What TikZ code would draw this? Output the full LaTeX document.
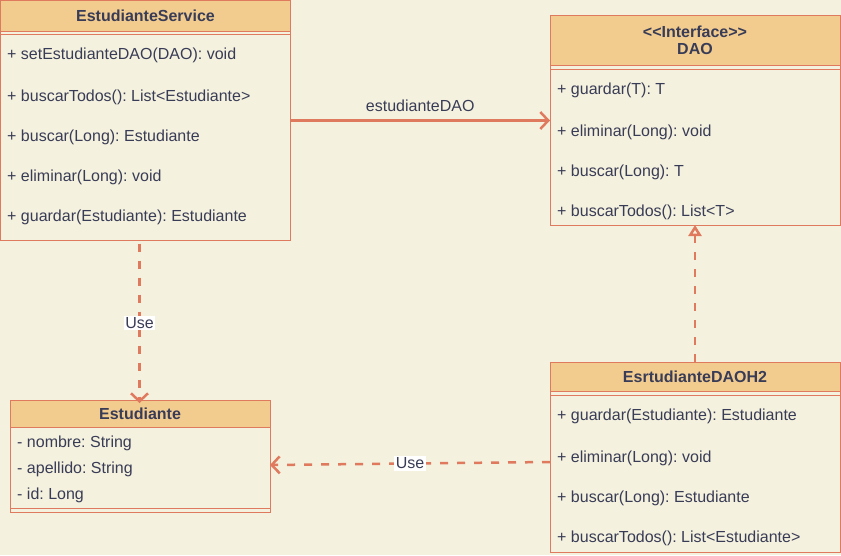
\documentclass[tikz,border=0pt]{standalone}
\usepackage{fontspec}
\setmainfont{Liberation Sans}
\usetikzlibrary{arrows.meta}
\definecolor{bg}{HTML}{F4F1DE}
\definecolor{stroke}{HTML}{E07A5F}
\definecolor{headfill}{HTML}{F2CC8F}
\definecolor{txt}{HTML}{393C56}
\frenchspacing
\begin{document}
\begin{tikzpicture}[x=1pt,y=-1pt,
  box/.style={draw=stroke,fill=bg,line width=1pt,inner sep=0pt,outer sep=0pt,anchor=north west},
  head/.style={draw=stroke,fill=headfill,line width=1pt,inner sep=0pt,outer sep=0pt,anchor=north west,
     font=\fontsize{16pt}{17pt}\selectfont\bfseries,text=txt,align=center},
  sep/.style={draw=stroke,line width=1pt},
  item/.style={anchor=west,inner sep=0pt,font=\fontsize{16pt}{18pt}\selectfont,text=txt},
  conn/.style={draw=stroke,line width=2.5pt},
  dashconn/.style={conn,dash pattern=on 8pt off 9pt},
  lbl/.style={font=\fontsize{16pt}{18pt}\selectfont,text=txt,inner sep=1.5pt},
  openhead/.style={-{Straight Barb[length=8pt,width=17pt,line width=2.5pt]}},
]
\useasboundingbox[fill=bg] (0,0) rectangle (841,555);

% EstudianteService
\node[box,minimum width=290pt,minimum height=240pt] (es) at (0.5,0.5) {};
\node[head,minimum width=290pt,minimum height=30.5pt] (esh) at (0.5,0.5) {EstudianteService};
\draw[sep] (0.5,34) -- (290.5,34);
\node[item] (es1) at (7,55) {+ setEstudianteDAO(DAO): void};
\node[item] (es2) at (7,97) {+ buscarTodos(): List{<}Estudiante{>}};
\node[item] (es3) at (7,137) {+ buscar(Long): Estudiante};
\node[item] (es4) at (7,177) {+ eliminar(Long): void};
\node[item] (es5) at (7,217) {+ guardar(Estudiante): Estudiante};

% DAO
\node[box,minimum width=290pt,minimum height=210pt] (dao) at (550,15) {};
\node[head,minimum width=290pt,minimum height=50pt] (daoh) at (550,15) {{<}{<}Interface{>}{>}\\DAO};
\draw[sep] (550,69) -- (840,69);
\node[item] (dao1) at (557,90) {+ guardar(T): T};
\node[item] (dao2) at (557,132) {+ eliminar(Long): void};
\node[item] (dao3) at (557,172) {+ buscar(Long): T};
\node[item] (dao4) at (557,212) {+ buscarTodos(): List{<}T{>}};

% Estudiante
\node[box,minimum width=260pt,minimum height=112pt] (est) at (10,400) {};
\node[head,minimum width=260pt,minimum height=27pt] (esth) at (10,400) {Estudiante};
\draw[sep] (10,508) -- (270,508);
\node[item] (est1) at (17,443) {- nombre: String};
\node[item] (est2) at (17,469) {- apellido: String};
\node[item] (est3) at (17,495) {- id: Long};

% EsrtudianteDAOH2
\node[box,minimum width=290pt,minimum height=190pt] (h2) at (550,362) {};
\node[head,minimum width=290pt,minimum height=29pt] (h2h) at (550,362) {EsrtudianteDAOH2};
\draw[sep] (550,395) -- (840,395);
\node[item] (h21) at (557,416) {+ guardar(Estudiante): Estudiante};
\node[item] (h22) at (557,458) {+ eliminar(Long): void};
\node[item] (h23) at (557,498) {+ buscar(Long): Estudiante};
\node[item] (h24) at (557,538) {+ buscarTodos(): List{<}Estudiante{>}};

% connectors
\draw[conn,openhead] (es.east) -- (es.east -| dao.west)
  node[lbl,midway,above=6pt] (l1) {estudianteDAO};
\draw[dashconn,openhead] ([xshift=-6pt,yshift=-3pt]es.south) -- ([xshift=-6pt,yshift=-3pt]es.south |- est.north)
  node[lbl,pos=0.5,fill=white] (l2) {Use};
\draw[dashconn,openhead] ([yshift=-5pt]h2.west) -- ([yshift=-9pt]est.east)
  node[lbl,pos=0.5,fill=white] (l3) {Use};
\draw[dashconn,-{Triangle[open,length=11pt,width=13pt,line width=2.5pt,fill=bg]}] (h2.north) -- (dao.south);
\end{tikzpicture}
\end{document}
